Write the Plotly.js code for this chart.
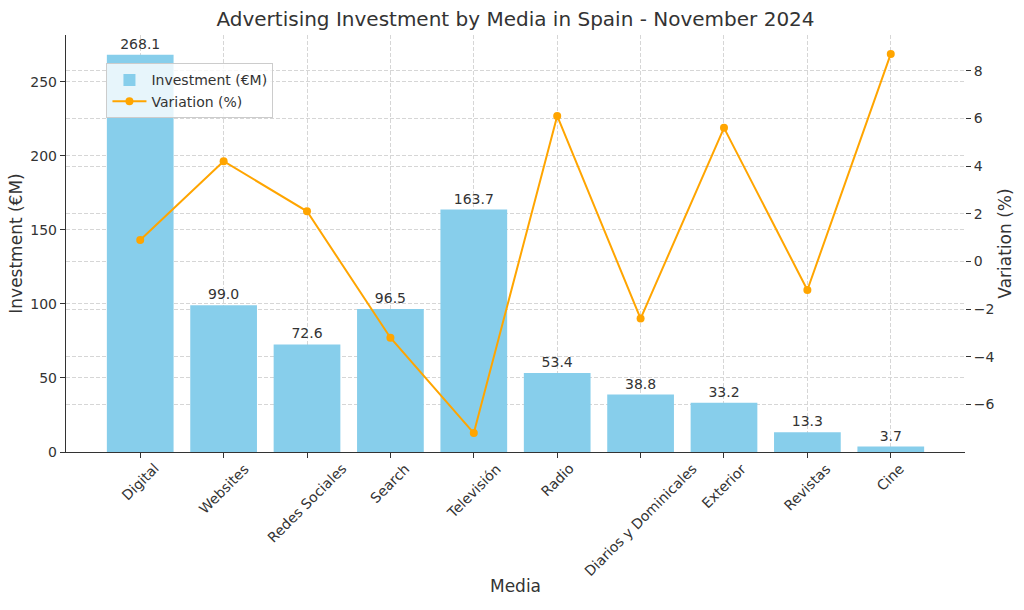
<!DOCTYPE html>
<html>
<head>
<meta charset="utf-8">
<script src="https://cdn.plot.ly/plotly-3.0.1.min.js"></script>
<style>html,body{margin:0;padding:0;background:#fff;}#chart{width:1024px;height:610px;}</style>
</head>
<body>
<div id="chart"></div>
<script>
const categories = ["Digital", "Websites", "Redes Sociales", "Search", "Televisión", "Radio", "Diarios y Dominicales", "Exterior", "Revistas", "Cine"];
const investment = [268.1, 99.0, 72.6, 96.5, 163.7, 53.4, 38.8, 33.2, 13.3, 3.7];
const variation = [0.9, 4.2, 2.1, -3.2, -7.2, 6.1, -2.4, 5.6, -1.2, 8.7];

const FONT = "DejaVu Sans, sans-serif";
const TXT = "#333333";
const GRID = "#d6d6d6";
const DASH = "4px,2px";

const barTrace = {
  type: "bar",
  name: "Investment (€M)",
  x: categories,
  y: investment,
  width: 0.8,
  marker: {color: "#87CEEB"},
  text: investment.map(v => v.toFixed(1)),
  textposition: "outside",
  constraintext: "none",
  cliponaxis: false,
  textfont: {family: FONT, size: 14, color: TXT},
  hoverinfo: "x+y"
};

const lineTrace = {
  type: "scatter",
  mode: "lines+markers",
  name: "Variation (%)",
  x: categories,
  y: variation,
  yaxis: "y2",
  line: {color: "#FFA500", width: 2},
  marker: {color: "#FFA500", size: 8}
};

const vmin = Math.min(...variation), vmax = Math.max(...variation);
const vpad = (vmax - vmin) * 0.05;
const imax = Math.max(...investment) * 1.05;

const tickAnnotations = categories.map(c => ({
  x: c, xref: "x", y: 0, yref: "paper",
  text: c, showarrow: false, textangle: -45,
  xanchor: "center", yanchor: "top", yshift: -6,
  font: {family: FONT, size: 14, color: TXT}
}));

const layout = {
  width: 1024, height: 610,
  margin: {l: 66, r: 59, t: 35, b: 158, pad: 0},
  paper_bgcolor: "#ffffff",
  plot_bgcolor: "#ffffff",
  font: {family: FONT, size: 14, color: TXT},
  title: {text: "Advertising Investment by Media in Spain - November 2024",
          x: 0.5, xref: "paper", xanchor: "center",
          y: 1 - 19/610, yref: "container", yanchor: "middle",
          font: {family: FONT, size: 20, color: TXT}},
  showlegend: true,
  legend: {x: 0.045, y: 0.932, xanchor: "left", yanchor: "top",
           bgcolor: "rgba(255,255,255,0.8)", bordercolor: "#cccccc", borderwidth: 1,
           font: {family: FONT, size: 14, color: TXT}, traceorder: "normal",
           tracegroupgap: 0, itemwidth: 34},
  bargap: 0.2,
  xaxis: {
    type: "category",
    range: [-0.89, categories.length - 1 + 0.89],
    showticklabels: false,
    ticks: "outside", ticklen: 5, tickcolor: "#333",
    showgrid: true, gridcolor: GRID, griddash: DASH, gridwidth: 1,
    showline: true, linecolor: "#333", linewidth: 1.2,
    zeroline: false,
    title: {text: "Media", font: {family: FONT, size: 17, color: TXT}, standoff: 122}
  },
  yaxis: {
    range: [0, imax],
    dtick: 50, tick0: 0,
    ticks: "outside", ticklen: 5, tickcolor: "#333",
    tickfont: {family: FONT, size: 14, color: TXT},
    showgrid: true, gridcolor: GRID, griddash: DASH, gridwidth: 1,
    showline: true, linecolor: "#333", linewidth: 1.2,
    zeroline: false,
    title: {text: "Investment (€M)", font: {family: FONT, size: 17, color: TXT}, standoff: 3}
  },
  yaxis2: {
    overlaying: "y", side: "right",
    range: [vmin - vpad, vmax + vpad],
    dtick: 2, tick0: 0,
    ticks: "outside", ticklen: 5, tickcolor: "#333",
    tickfont: {family: FONT, size: 14, color: TXT},
    showgrid: true, gridcolor: GRID, griddash: DASH, gridwidth: 1,
    showline: false,
    zeroline: false,
    title: {text: "Variation (%)", font: {family: FONT, size: 17, color: TXT}, standoff: 5}
  },
  annotations: tickAnnotations
};

Plotly.newPlot("chart", [barTrace, lineTrace], layout, {displayModeBar: false, staticPlot: true});
</script>
</body>
</html>
